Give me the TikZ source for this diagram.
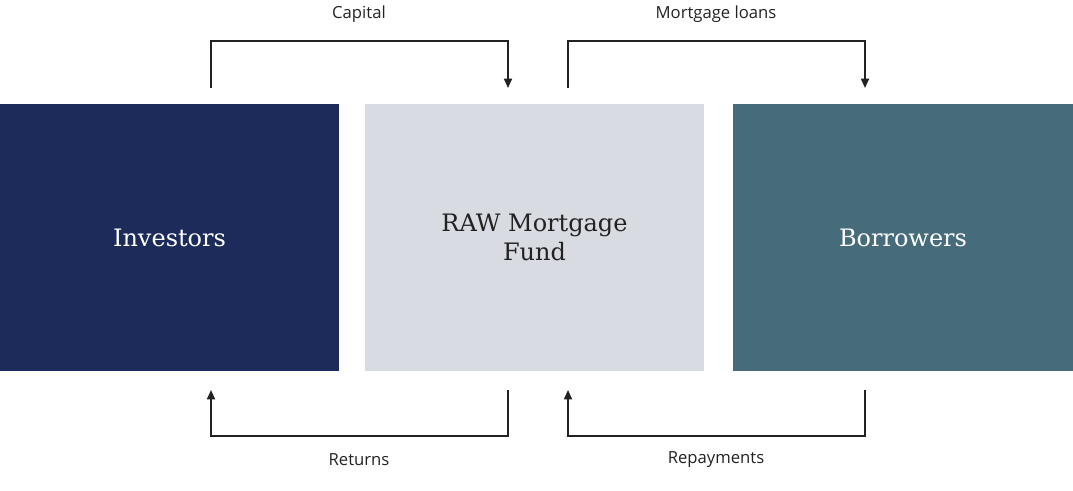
\documentclass[tikz,border=0pt]{standalone}
\usepackage{fontspec}
\setmainfont{DejaVu Serif}
\newfontfamily\labelfont{Open Sans}
\usetikzlibrary{arrows.meta}
\definecolor{navy}{HTML}{1C2B5A}
\definecolor{fundgray}{HTML}{D8DBE2}
\definecolor{teal}{HTML}{466C7C}
\definecolor{ink}{HTML}{222222}
\begin{document}
\begin{tikzpicture}[x=0.75pt,y=-0.75pt,
    party/.style={minimum width=339*0.75pt,minimum height=267*0.75pt,inner sep=0pt,align=center,font=\fontsize{18}{22}\selectfont},
    flow/.style={draw=ink,line width=1.3pt,-{Triangle[length=7pt,width=6pt]}},
    flowlabel/.style={font=\labelfont\fontsize{12.5}{15}\selectfont,text=ink}]
    \useasboundingbox (0,0) rectangle (1073,491);
    % parties
    \node[party,fill=navy,text=white] (inv) at (169.5,237.5) {Investors};
    \node[party,fill=fundgray,text=ink] (fund) at (534.5,237.5) {RAW Mortgage\\Fund};
    \node[party,fill=teal,text=white,minimum width=340*0.75pt] (bor) at (903,237.5) {Borrowers};
    % flows
    \coordinate (capA) at (211,88);   \coordinate (capB) at (508,88);
    \coordinate (loanA) at (568,88);  \coordinate (loanB) at (865,88);
    \coordinate (retA) at (508,390);  \coordinate (retB) at (211,390);
    \coordinate (repA) at (865,390);  \coordinate (repB) at (568,390);
    \draw[flow] (capA) |- (359,41) -| (capB);
    \draw[flow] (loanA) |- (716,41) -| (loanB);
    \draw[flow] (retA) |- (359,436) -| (retB);
    \draw[flow] (repA) |- (716,436) -| (repB);
    \node[flowlabel] (capital) at (359,14) {Capital};
    \node[flowlabel] (loans) at (716,14) {Mortgage loans};
    \node[flowlabel] (returns) at (359,460) {Returns};
    \node[flowlabel] (repay) at (716,460) {Repayments};
\end{tikzpicture}
\end{document}
